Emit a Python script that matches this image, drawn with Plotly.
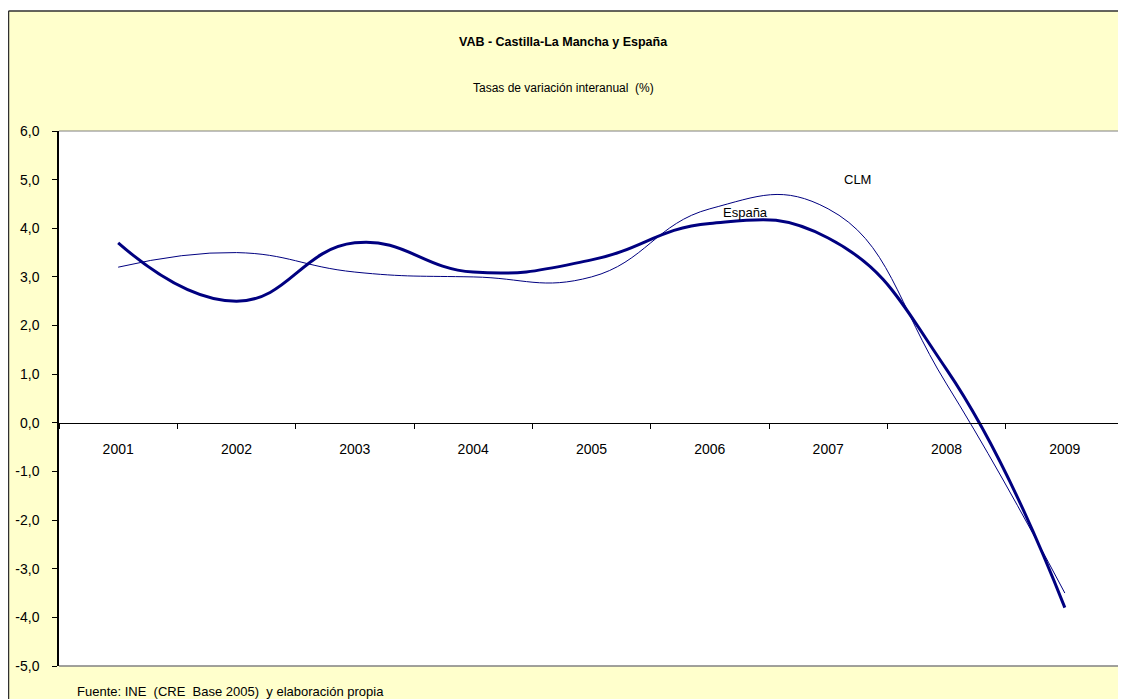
import plotly.graph_objects as go

years = ["2001", "2002", "2003", "2004", "2005", "2006", "2007", "2008", "2009"]
espana = [3.7, 2.5, 3.7, 3.1, 3.35, 4.1, 3.8, 1.1, -3.8]
clm = [3.2, 3.5, 3.1, 3.0, 3.0, 4.4, 4.4, 0.8, -3.5]
y_ticks = [-5, -4, -3, -2, -1, 0, 1, 2, 3, 4, 5, 6]
y_labels = [f"{v:.1f}".replace(".", ",") for v in y_ticks]

# The page adds an 8px body margin, so the figure is laid out 8px smaller.
OFF = 8
W, H = 1126 - OFF, 699 - OFF
L, R, T, B = 59 - OFF, 1124 - OFF, 131 - OFF, 666 - OFF
pw, ph = R - L, B - T


def px(x_page):
    return (x_page - OFF - L) / pw


def py(y_page):
    return (B - (y_page - OFF)) / ph


FONT = "Liberation Sans, Arial, sans-serif"
NAVY = "#000080"

fig = go.Figure()
fig.add_trace(go.Scatter(x=years, y=clm, mode="lines", name="CLM",
                         line=dict(color=NAVY, width=1, shape="spline", smoothing=1.3)))
fig.add_trace(go.Scatter(x=years, y=espana, mode="lines", name="España",
                         line=dict(color=NAVY, width=3, shape="spline", smoothing=1.3)))

shapes = [
    # white strip above the chart border
    dict(type="rect", xref="paper", yref="paper", x0=px(0), x1=px(1140), y0=py(11), y1=py(-5),
         fillcolor="white", line=dict(width=0), layer="above"),
    # chart border
    dict(type="line", xref="paper", yref="paper", x0=px(8.5), x1=px(1140), y0=py(11), y1=py(11),
         line=dict(color="#303030", width=1.5), layer="above"),
    dict(type="line", xref="paper", yref="paper", x0=px(8.5), x1=px(8.5), y0=py(11), y1=py(720),
         line=dict(color="#303030", width=1.5), layer="above"),
    # plot area border (gray)
    dict(type="line", xref="paper", yref="paper", x0=0, x1=1, y0=1, y1=1,
         line=dict(color="#808080", width=1), layer="above"),
    dict(type="line", xref="paper", yref="paper", x0=1, x1=1, y0=0, y1=1,
         line=dict(color="#808080", width=1), layer="above"),
    dict(type="line", xref="paper", yref="paper", x0=0, x1=1, y0=0, y1=0,
         line=dict(color="#808080", width=1.5), layer="above"),
]

annotations = [
    dict(text="<b>VAB - Castilla-La Mancha y España</b>", xref="paper", yref="paper",
         x=px(563), y=py(42), showarrow=False, xanchor="center", yanchor="middle",
         font=dict(family=FONT, size=12.5, color="black")),
    dict(text="Tasas de variación interanual  (%)", xref="paper", yref="paper",
         x=px(563), y=py(88), showarrow=False, xanchor="center", yanchor="middle",
         font=dict(family=FONT, size=12, color="black")),
    dict(text="Fuente: INE  (CRE  Base 2005)  y elaboración propia", xref="paper", yref="paper",
         x=px(75), y=py(691), showarrow=False, xanchor="left", yanchor="middle",
         font=dict(family=FONT, size=13, color="black")),
    dict(text="España", x=5.3, y=4.33, xref="x", yref="y", showarrow=False,
         xanchor="center", yanchor="middle", font=dict(family=FONT, size=13, color="black")),
    dict(text="CLM", x=6.25, y=5.0, xref="x", yref="y", showarrow=False,
         xanchor="center", yanchor="middle", font=dict(family=FONT, size=13, color="black")),
]

fig.update_layout(
    width=W, height=H,
    margin=dict(l=L, r=W - R, t=T, b=H - B, pad=0),
    paper_bgcolor="#FFFFCC",
    plot_bgcolor="white",
    showlegend=False,
    font=dict(family=FONT, size=14, color="black"),
    shapes=shapes,
    annotations=annotations,
    xaxis=dict(type="category", range=[-0.5, 8.5], anchor="free", position=5 / 11,
               showline=True, linecolor="black", linewidth=1,
               ticks="outside", ticklen=5, tickcolor="black", tickson="boundaries",
               showgrid=False, zeroline=False, ticklabelstandoff=13,
               tickfont=dict(family=FONT, size=14, color="black")),
    yaxis=dict(range=[-5, 6], tickvals=y_ticks, ticktext=y_labels,
               showline=True, linecolor="black", linewidth=1.5,
               ticks="outside", ticklen=5, tickcolor="black",
               showgrid=False, zeroline=False, ticklabelstandoff=10,
               tickfont=dict(family=FONT, size=14, color="black")),
)

fig.write_html("out.html")
